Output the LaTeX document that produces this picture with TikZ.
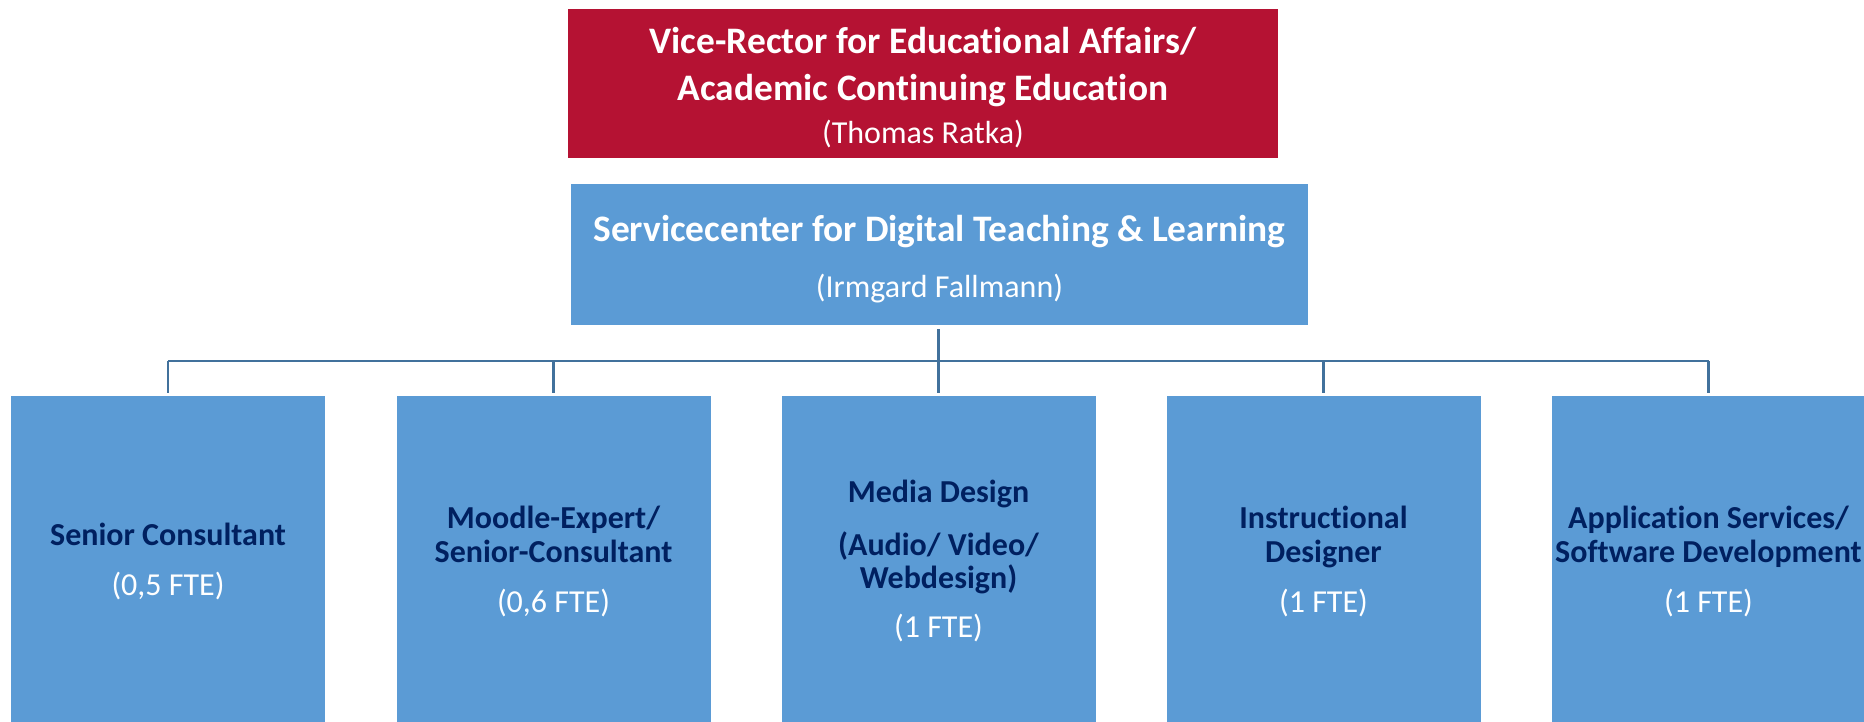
\documentclass[tikz,border=0pt]{standalone}
\usepackage{fontspec}
\setmainfont{Carlito}[Ligatures={NoCommon,TeX}]
\definecolor{rectred}{HTML}{B51233}
\definecolor{boxblue}{HTML}{5B9BD5}
\definecolor{linkblue}{HTML}{41719C}
\definecolor{navyblue}{HTML}{002060}
\newcommand{\ftetxt}[1]{{\mdseries\color{white}#1}}
\newcommand{\bigbold}[1]{{\fontsize{18.7}{23.5}\selectfont\bfseries #1}}
\begin{document}
\begin{tikzpicture}[x=0.5pt,y=-0.5pt,
  headlabel/.style={text=white, align=center, inner sep=0pt},
  rectorbox/.style={fill=rectred, minimum width=355pt, minimum height=74.25pt, inner sep=0pt},
  svcbox/.style={fill=boxblue, minimum width=368.5pt, minimum height=70.5pt, inner sep=0pt},
  unitbox/.style={fill=boxblue, text=navyblue, minimum width=157pt, minimum height=165pt,
    inner sep=0pt, align=center, font=\fontsize{16}{17}\selectfont\bfseries},
  conn/.style={draw=linkblue, line width=1.1pt}
]
\useasboundingbox (0,0) rectangle (1864,722);

\node[rectorbox, label={[name=rectortext, headlabel, yshift=-2pt,
    font=\fontsize{16}{23.5}\selectfont]center:{\bigbold{Vice-Rector for Educational Affairs/}\\
   \bigbold{Academic Continuing Education}\\[-2pt]
   (Thomas Ratka)}}] (rector) at (923,83.75) {};

\node[svcbox, label={[name=svctext, headlabel, yshift=-2.25pt,
    font=\fontsize{16}{28}\selectfont]center:{\bigbold{Servicecenter for Digital Teaching \& Learning}\\
   (Irmgard Fallmann)}}] (svc) at (939.5,254.5) {};

\node[unitbox] (u1) at (168,561)
  {Senior Consultant\\[8pt] \ftetxt{(0,5 FTE)}};
\node[unitbox] (u2) at (553.5,561)
  {Moodle-Expert/\\ Senior-Consultant\\[8pt] \ftetxt{(0,6 FTE)}};
\node[unitbox] (u3) at (938.5,561)
  {Media Design\\[9.5pt] (Audio/ Video/\\[-0.5pt] Webdesign)\\[7.5pt] \ftetxt{(1 FTE)}};
\node[unitbox] (u4) at (1323.5,561)
  {Instructional\\ Designer\\[8pt] \ftetxt{(1 FTE)}};
\node[unitbox] (u5) at (1708.5,561)
  {Application Services/\\ Software Development\\[8pt] \ftetxt{(1 FTE)}};

\coordinate (bus) at (938.5,361);
\draw[conn, shorten <=2pt, shorten >=1.5pt] (svc.south -| u3.north) -- (u3.north);
\draw[conn, shorten >=1.5pt] (u1.north |- bus) -- (u1.north);
\draw[conn, shorten >=1.5pt] (u2.north |- bus) -- (u2.north);
\draw[conn, shorten >=1.5pt] (u4.north |- bus) -- (u4.north);
\draw[conn, shorten >=1.5pt] (u5.north |- bus) -- (u5.north);
\draw[conn] (u1.north |- bus) -- (u5.north |- bus);
\end{tikzpicture}
\end{document}
